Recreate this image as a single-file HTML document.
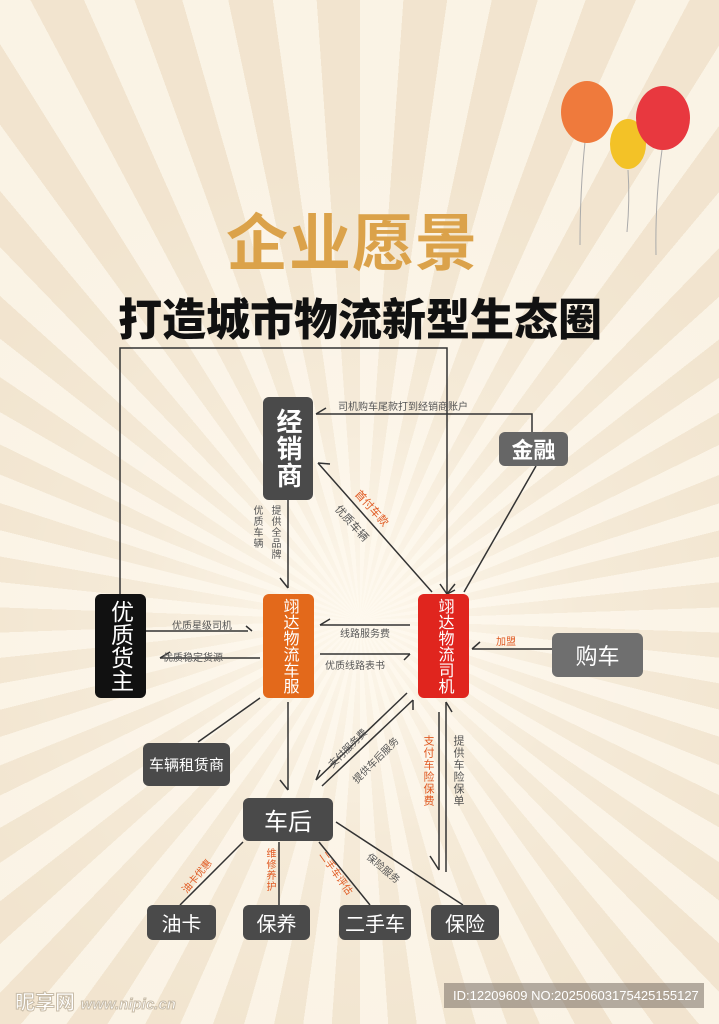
<!DOCTYPE html>
<html><head><meta charset="utf-8"><style>
*{margin:0;padding:0;box-sizing:border-box}
body{width:719px;height:1024px;overflow:hidden;position:relative;font-family:"Liberation Sans","Noto Sans CJK SC",sans-serif;
background:repeating-conic-gradient(from 0deg at 360px 620px,#faf2e4 0deg 4deg,#f0e2cb 4deg 8deg);}
.b{position:absolute;color:#fff;border-radius:6px;display:flex;align-items:center;justify-content:center;text-align:center}
.g{background:#4a4a4a}
.v{writing-mode:vertical-rl;letter-spacing:1px}
.t{position:absolute;font-size:10px;color:#555;white-space:nowrap}
.o{color:#e05a22}
svg{position:absolute;left:0;top:0}
</style></head><body>
<div style="position:absolute;left:0;top:0;width:719px;height:1024px;background:radial-gradient(circle at 360px 620px,rgba(255,250,240,.9) 0,rgba(255,250,240,.35) 220px,rgba(255,250,240,.1) 450px)"></div>
<div style="position:absolute;left:226px;top:193px;font-size:62px;font-weight:bold;color:#dba24a;letter-spacing:1px;white-space:nowrap">企业愿景</div>
<div style="position:absolute;left:118px;top:284px;font-size:44px;font-weight:900;color:#111;letter-spacing:0;white-space:nowrap">打造城市物流新型生态圈</div>
<svg width="719" height="1024">
<g stroke="#aaa" fill="none"><path d="M585 142 Q580 190 580 245"/><path d="M628 170 Q630 200 627 232"/><path d="M662 150 Q655 200 656 255"/></g>
<ellipse cx="587" cy="112" rx="26" ry="31" fill="#ef7a3c"/><ellipse cx="628" cy="144" rx="18" ry="25" fill="#f3c227"/><ellipse cx="663" cy="118" rx="27" ry="32" fill="#e8383f"/>
<g stroke="#333" stroke-width="1.5" fill="none">
<path d="M120 594 V348 H447 V594"/><path d="M440 584 L447 594 L455 584"/>
<path d="M532 432 V414 H316"/><path d="M326 408 L316 414"/>
<path d="M432 592 L318 463"/><path d="M318 463 L330 464"/>
<path d="M536 466 L464 592"/><path d="M455 590 L447 594"/>
<path d="M288 500 V588"/><path d="M280 578 L288 588"/>
<path d="M146 631 H248"/><path d="M246 626 L252 631"/>
<path d="M260 658 H160"/><path d="M170 652 L160 658"/>
<path d="M410 625 H320"/><path d="M330 619 L320 625"/>
<path d="M320 654 H410"/><path d="M404 660 L410 654"/>
<path d="M552 649 H472"/><path d="M480 642 L472 649"/>
<path d="M260 698 L198 742"/>
<path d="M288 702 V790"/><path d="M280 780 L288 790"/>
<path d="M407 693 L316 780"/><path d="M316 780 L320 770"/>
<path d="M413 700 L322 786"/><path d="M413 700 L413 710"/>
<path d="M439 712 V870"/><path d="M430 856 L439 870"/>
<path d="M446 872 V702"/><path d="M446 702 L452 712"/>
<path d="M243 842 L180 905"/><path d="M279 842 V905"/><path d="M319 842 L370 905"/><path d="M336 822 L463 905"/>
</g>
</svg>
<div class="b g v" style="left:263px;top:397px;width:50px;height:103px;font-size:26px;font-weight:bold;line-height:30px">经销商</div>
<div class="b" style="left:499px;top:432px;width:69px;height:34px;background:#666;font-size:22px;font-weight:bold">金融</div>
<div class="b v" style="left:95px;top:594px;width:51px;height:104px;background:#111;font-size:23px;line-height:26px;letter-spacing:0">优质货主</div>
<div class="b v" style="left:263px;top:594px;width:51px;height:104px;background:#e3691b;font-size:16px;letter-spacing:0;line-height:18px">翊达物流车服</div>
<div class="b v" style="left:418px;top:594px;width:51px;height:104px;background:#e0251e;font-size:16px;letter-spacing:0;line-height:18px">翊达物流司机</div>
<div class="b" style="left:552px;top:633px;width:91px;height:44px;background:#6f6f6f;font-size:22px">购车</div>
<div class="b g" style="left:143px;top:743px;width:87px;height:43px;font-size:15px">车辆租赁商</div>
<div class="b g" style="left:243px;top:798px;width:90px;height:43px;font-size:24px">车后</div>
<div class="b g" style="left:147px;top:905px;width:69px;height:35px;font-size:20px">油卡</div>
<div class="b g" style="left:243px;top:905px;width:67px;height:35px;font-size:20px">保养</div>
<div class="b g" style="left:339px;top:905px;width:72px;height:35px;font-size:20px">二手车</div>
<div class="b g" style="left:431px;top:905px;width:68px;height:35px;font-size:20px">保险</div>
<div class="t" style="left:338px;top:398px">司机购车尾款打到经销商账户</div>
<div class="t o" style="left:350px;top:500px;transform:rotate(48deg);font-size:11px">首付车款</div>
<div class="t" style="left:330px;top:515px;transform:rotate(48deg);font-size:11px">优质车辆</div>
<div class="t v" style="left:250px;top:505px;line-height:12px">优质车辆</div>
<div class="t v" style="left:268px;top:505px;line-height:12px">提供全品牌</div>
<div class="t" style="left:172px;top:617px">优质星级司机</div>
<div class="t" style="left:163px;top:649px">优质稳定货源</div>
<div class="t" style="left:340px;top:625px">线路服务费</div>
<div class="t" style="left:325px;top:657px">优质线路表书</div>
<div class="t o" style="left:496px;top:633px">加盟</div>
<div class="t" style="left:322px;top:740px;transform:rotate(-45deg)">支付服务费</div>
<div class="t" style="left:345px;top:752px;transform:rotate(-45deg)">提供车后服务</div>
<div class="t o v" style="left:422px;top:735px;line-height:12px;font-size:11px">支付车险保费</div>
<div class="t v" style="left:452px;top:735px;line-height:12px;font-size:11px">提供车险保单</div>
<div class="t o" style="left:176px;top:868px;transform:rotate(-50deg)">油卡优惠</div>
<div class="t o v" style="left:264px;top:848px;line-height:11px">维修养护</div>
<div class="t o" style="left:312px;top:865px;transform:rotate(55deg)">二手车评估</div>
<div class="t" style="left:364px;top:860px;transform:rotate(40deg)">保险服务</div>
<div style="position:absolute;left:15px;top:986px;font-size:20px;color:#fff;font-weight:bold;-webkit-text-stroke:1px #c8bca8">昵享网 <span style="font-size:15px;font-style:italic">www.nipic.cn</span></div>
<div style="position:absolute;left:444px;top:983px;width:260px;height:25px;background:rgba(120,110,100,.55);color:#fff;font-size:13px;line-height:25px;padding-left:9px">ID:12209609 NO:20250603175425155127</div>
</body></html>
